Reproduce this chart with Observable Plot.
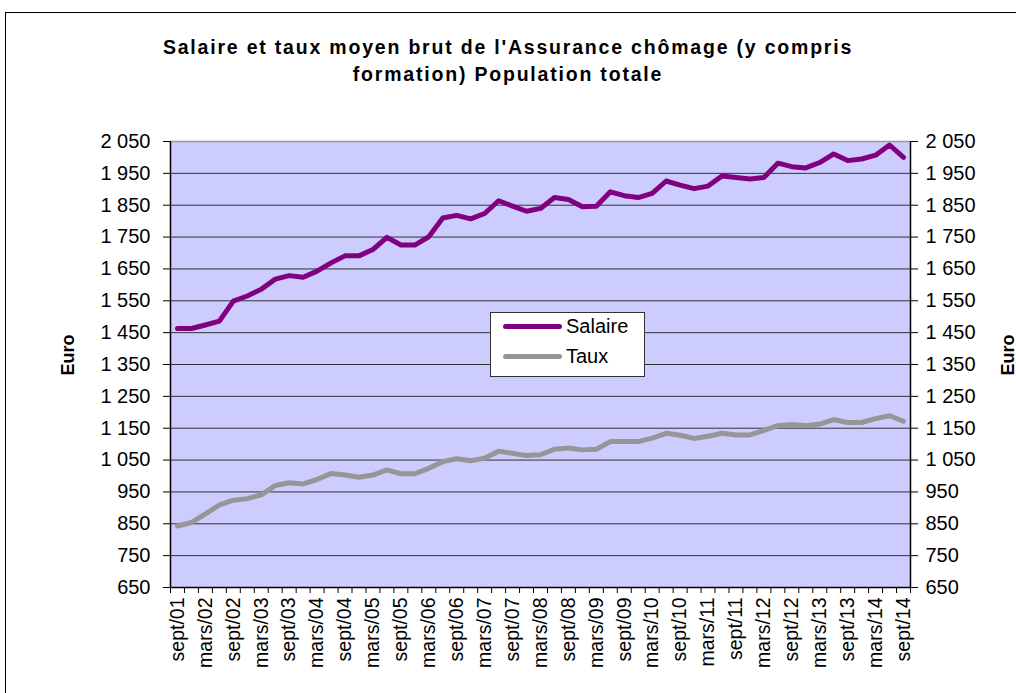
<!DOCTYPE html>
<html>
<head>
<meta charset="utf-8">
<script src="https://cdn.jsdelivr.net/npm/d3@7"></script>
<script src="https://cdn.jsdelivr.net/npm/@observablehq/plot@0.6"></script>
<style>
  body { margin: 0; background: #fff; font-family: "Liberation Sans", Arial, sans-serif; }
  #wrap { position: relative; width: 1016px; height: 693px; overflow: hidden; }
  #border { position: absolute; left: 5px; top: 12px; width: 1100px; height: 800px; border: 1.5px solid #000; box-sizing: border-box; }
  #chart { position: absolute; left: 0; top: 0; }
  #title { position: absolute; left: 0; width: 1016px; top: 34px; text-align: center; font-weight: bold; font-size: 19.5px; line-height: 27px; letter-spacing: 1.8px; }
  .euro { position: absolute; font-weight: bold; font-size: 18px; transform: translate(-50%, -50%) rotate(-90deg); white-space: nowrap; }
  #legend { position: absolute; left: 490px; top: 312px; width: 155px; height: 65px; background: #fff; border: 1px solid #333; box-sizing: border-box; }
  .item { position: absolute; left: 12px; height: 24px; display: flex; align-items: center; font-size: 20px; }
  .sw { display: inline-block; width: 59px; height: 5px; border-radius: 3px; margin-right: 4px; }
</style>
</head>
<body>
<div id="wrap">
  <div id="border"></div>
  <div id="chart"></div>
  <div id="title">Salaire et taux moyen brut de l'Assurance chômage (y compris<br>formation) Population totale</div>
  <div class="euro" style="left:68px;top:355px">Euro</div>
  <div class="euro" style="left:1008px;top:355px">Euro</div>
  <div id="legend"></div>
</div>
<script>
const periods = [
  "sept/01","déc/01","mars/02","juin/02","sept/02","déc/02","mars/03","juin/03",
  "sept/03","déc/03","mars/04","juin/04","sept/04","déc/04","mars/05","juin/05",
  "sept/05","déc/05","mars/06","juin/06","sept/06","déc/06","mars/07","juin/07",
  "sept/07","déc/07","mars/08","juin/08","sept/08","déc/08","mars/09","juin/09",
  "sept/09","déc/09","mars/10","juin/10","sept/10","déc/10","mars/11","juin/11",
  "sept/11","déc/11","mars/12","juin/12","sept/12","déc/12","mars/13","juin/13",
  "sept/13","déc/13","mars/14","juin/14","sept/14"
];
const salaire = [
  1463,1463,1474,1486,1549,1565,1586,1618,1629,1624,1643,1669,1691,1691,1711,1749,
  1725,1725,1751,1810,1818,1807,1824,1864,1847,1831,1840,1874,1868,1845,1847,1892,
  1880,1874,1887,1926,1913,1902,1910,1942,1937,1932,1937,1982,1971,1967,1984,2011,
  1990,1995,2007,2039,2000
];
const taux = [
  843,854,881,909,924,929,941,970,979,975,989,1008,1003,996,1003,1019,
  1007,1007,1024,1045,1054,1048,1056,1078,1071,1064,1067,1084,1088,1082,1084,1108,
  1108,1108,1119,1134,1128,1118,1125,1134,1129,1129,1143,1158,1162,1158,1163,1177,
  1168,1168,1180,1189,1172
];
const yTicks = [650,750,850,950,1050,1150,1250,1350,1450,1550,1650,1750,1850,1950,2050];
const series = [
  {name: "Salaire", values: salaire, color: "#800080"},
  {name: "Taux", values: taux, color: "#969696"}
];

const rows = series.flatMap(s => s.values.map((v, i) => ({i, v, name: s.name})));
const labelIdx = periods.map((p, i) => i).filter(i => i % 2 === 0);
const boundaries = d3.range(-0.5, periods.length, 1);
const fmt = v => v >= 1000 ? `${Math.floor(v / 1000)} ${String(v % 1000).padStart(3, "0")}` : `${v}`;

const chart = Plot.plot({
  width: 1016,
  height: 693,
  marginLeft: 170,
  marginRight: 106,
  marginTop: 141,
  marginBottom: 106,
  style: {fontFamily: "'Liberation Sans', Arial, sans-serif", color: "#000", background: "transparent"},
  x: {type: "linear", domain: [-0.5, periods.length - 0.5]},
  y: {domain: [650, 2050]},
  color: {domain: series.map(s => s.name), range: series.map(s => s.color)},
  marks: [
    Plot.frame({fill: "#CCCCFF", stroke: null}),
    Plot.gridY(yTicks, {stroke: "#333", strokeOpacity: 1, strokeWidth: 1}),
    Plot.ruleY([2050], {stroke: "#999", strokeWidth: 1.5}),
    Plot.ruleY([650], {stroke: "#000", strokeWidth: 1.5}),
    Plot.ruleX([-0.5, periods.length - 0.5], {stroke: "#000", strokeWidth: 1.5}),
    Plot.axisY(yTicks, {anchor: "left", tickSize: 7, tickPadding: 13, tickFormat: fmt, fontSize: 20, label: null, stroke: "#000"}),
    Plot.axisY(yTicks, {anchor: "right", tickSize: 7, tickPadding: 8, tickFormat: fmt, fontSize: 20, label: null, stroke: "#000"}),
    Plot.axisX(boundaries, {anchor: "bottom", tickSize: 6, tickFormat: () => "", label: null, stroke: "#000"}),
    Plot.axisX(labelIdx, {anchor: "bottom", tickSize: 0, tickPadding: 10, tickRotate: -90, tickFormat: i => periods[i], fontSize: 19.5, label: null}),
    Plot.line(rows, {x: "i", y: "v", z: "name", stroke: "name", strokeWidth: 5, strokeLinejoin: "round", strokeLinecap: "round"})
  ]
});
document.getElementById("chart").appendChild(chart);

const legend = document.getElementById("legend");
series.forEach((s, k) => {
  const it = document.createElement("div");
  it.className = "item";
  it.style.top = (1 + k * 30) + "px";
  it.innerHTML = `<span class="sw" style="background:${s.color}"></span><span>${s.name}</span>`;
  legend.appendChild(it);
});
</script>
</body>
</html>
